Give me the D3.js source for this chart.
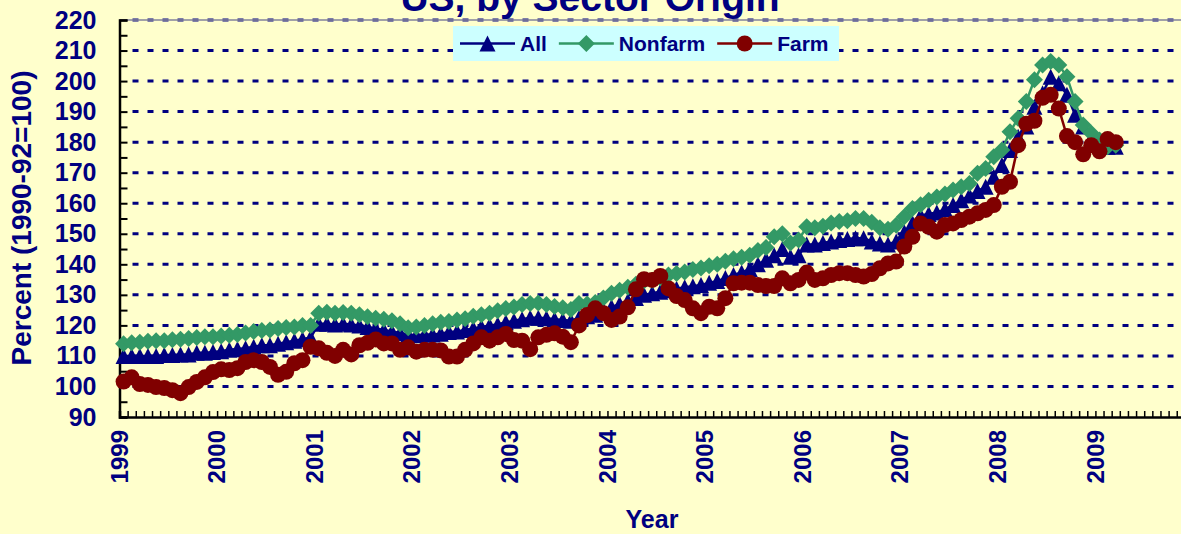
<!DOCTYPE html>
<html>
<head>
<meta charset="utf-8">
<script src="https://cdn.jsdelivr.net/npm/d3@7"></script>
<style>
  body { margin: 0; background: #ffffcc; }
  svg { display: block; font-family: "Liberation Sans", Arial, sans-serif; font-weight: bold; }
</style>
</head>
<body>
<svg width="1181" height="534"></svg>
<script>
// monthly index values, Jan 1999 .. Mar 2009 (1990-92=100)
var years = ["1999","2000","2001","2002","2003","2004","2005","2006","2007","2008","2009"];
var yTicks = [90,100,110,120,130,140,150,160,170,180,190,200,210,220];
var seriesNames = ["All","Nonfarm","Farm"];

var allPrices = [
  110,110,110,110,110,110.3,110.3,110.5,110.5,111,111,111.3,
  111.5,112,112.3,112.5,113,113.5,113.5,114,114.5,115,115.5,116,
  120.5,120.5,120.3,120.5,120.3,120,119.5,119,118.5,118,117.5,117,
  116.8,117,117,117.3,117.8,118,118.5,119,119.5,120,120.3,121,
  121.5,122,122.5,122.5,122.3,122,121.8,121.5,122.5,123,123.5,125,
  126,127,128,129,130,130.5,131,131.5,132,132.5,132.8,133.2,
  134,134.5,135.5,136.5,137.3,138.5,140,141.5,143,145,142.5,143,
  146.5,146.5,147,147.5,148,148.3,148.5,148.5,147.5,146.8,146.5,147.5,
  150.5,153.5,156,156.5,157,158,159.4,161,162.5,164,165.4,168.7,
  172.5,177.4,181.8,185.1,191.6,196,201.4,199.3,195.5,189,185.1,181.3,
  179.1,178.5,178.5
];

var nonfarmPrices = [
  114,114.3,114.5,114.8,115,115,115.3,115.5,115.7,116,116.3,116.3,
  116.5,116.8,117,117.5,118,118.3,118.5,119,119.3,119.5,120,120,
  124,124.3,124,124.2,124,123.5,122.8,122.3,122,121.5,120.5,119.2,
  119.5,120,120.5,121,121.3,121.8,122.2,123,123.5,124,124.8,125.5,
  126,126.8,127.2,127.3,126.8,126.2,125.8,125.2,127.2,127,127.5,129,
  130.5,131.5,132.5,133.5,134.5,134.8,135.5,136.5,137,137.5,138.3,138.8,
  139.5,140,141,141.8,142.3,143,144.5,145.5,149,150,147,148,
  152.3,152,152.5,153.5,154,154.3,155,155,153.8,152,151.5,152.8,
  155.6,158.3,159.5,161,162,163,164.3,165.4,166.5,169.8,171.4,175.2,
  177.4,183.4,187.8,193.3,200.4,205.3,206.4,205.3,201.4,193.3,185.6,182.9,
  180.7,178.5,179
];

var farmPrices = [
  101.6,103,100.8,100.5,99.8,99.5,98.8,97.8,99.8,101.5,103,104.7,
  105.6,105.4,106,108,108.6,108,106.4,103.8,104.8,107.6,108.6,113,
  112.5,111,110,112,110.5,113.5,114.3,115.4,114.1,114.1,112,112.8,
  111.4,112,112,111.8,109.8,109.8,112,114.1,116.1,115,116.1,117.2,
  115.2,115,112.2,116.1,116.9,117.4,116.3,114.5,120,123.4,125.6,124,
  121.8,122.9,125.9,131.8,135.1,134.9,136.2,132.1,129.6,128.3,125.6,124,
  126.1,125.6,128.9,133.8,134,134,133.2,132.9,132.9,135.4,133.8,134.9,
  137.3,134.9,135.4,136.5,137.1,137.1,136.5,136,136.8,138.7,140.3,140.9,
  145.8,149,153.4,152.3,150.7,152.9,153.4,154.5,155.6,156.7,157.8,159.4,
  165.4,167,179,186,187,194.5,195.5,191,182,180,176,179,
  177,181,180
];

var navy = "#000080";
var colors = ["#000080", "#339966", "#800000"];

var svg = d3.select("svg");
var plotLeft = 119.5, plotRight = 1193, plotTop = 20, plotBottom = 417;
var months = years.length * 12; // 132 category slots

var x = d3.scaleLinear().domain([0, months]).range([plotLeft, plotRight]);
var y = d3.scaleLinear().domain([90, 220]).range([plotBottom, plotTop]);

svg.append("rect").attr("width", 1181).attr("height", 534).attr("fill", "#ffffcc");

// title (only its lower part shows)
svg.append("text")
    .attr("x", 590).attr("y", 11)
    .attr("text-anchor", "middle")
    .attr("fill", navy)
    .style("font-size", "39px")
    .text("US, by Sector Origin");

// grid
svg.append("g").selectAll("line")
    .data(yTicks.filter(function(d) { return d > 90; }))
  .enter().append("line")
    .attr("x1", plotLeft + 13).attr("x2", plotRight)
    .attr("y1", function(d) { return y(d); })
    .attr("y2", function(d) { return y(d); })
    .attr("stroke", navy)
    .attr("stroke-width", 3)
    .attr("stroke-dasharray", "6,9");

svg.append("line")
    .attr("x1", plotLeft).attr("x2", plotRight).attr("y1", plotTop).attr("y2", plotTop)
    .attr("stroke", "#8a8aa0").attr("stroke-width", 2).attr("opacity", 0.8);

// y axis
var yAxis = svg.append("g")
    .attr("transform", "translate(" + plotLeft + ",0)")
    .call(d3.axisLeft(y)
      .tickValues(d3.range(90, 221, 5))
      .tickSize(-8)
      .tickPadding(23)
      .tickFormat(function(d) { return d % 10 === 0 ? d : ""; }));
yAxis.select(".domain").attr("stroke", "#000").attr("stroke-width", 2.5);
yAxis.selectAll(".tick line").attr("stroke", "#000").attr("stroke-width", 2);
yAxis.selectAll("text")
    .attr("fill", navy)
    .style("font-size", "25px")
    .style("font-family", "'Liberation Sans', Arial, sans-serif")
    .style("font-weight", "bold");

// x axis
var xAxis = svg.append("g")
    .attr("transform", "translate(0," + plotBottom + ")")
    .call(d3.axisBottom(x)
      .tickValues(d3.range(0, months + 1))
      .tickSize(-6)
      .tickFormat(function(d) { return d % 12 === 0 && d / 12 < years.length ? years[d / 12] : ""; }));
xAxis.select(".domain").attr("stroke", "#000").attr("stroke-width", 2.5);
xAxis.selectAll(".tick line").attr("stroke", "#000").attr("stroke-width", 1.5);
xAxis.selectAll("text")
    .attr("transform", "rotate(-90)")
    .attr("x", -13).attr("y", -1).attr("dy", "0.36em")
    .attr("text-anchor", "end")
    .attr("fill", navy)
    .style("font-size", "24px")
    .style("font-family", "'Liberation Sans', Arial, sans-serif")
    .style("font-weight", "bold");

// axis titles
svg.append("text")
    .attr("x", 652).attr("y", 528)
    .attr("text-anchor", "middle")
    .attr("fill", navy)
    .style("font-size", "25px")
    .text("Year");

svg.append("text")
    .attr("transform", "translate(31,218) rotate(-90)")
    .attr("text-anchor", "middle")
    .attr("fill", navy)
    .style("font-size", "28px")
    .text("Percent (1990-92=100)");

// markers
function triangle(s) {
  return "M0," + (-s / 2) + "L" + (s / 2) + "," + (s / 2) + "L" + (-s / 2) + "," + (s / 2) + "Z";
}
function diamond(s) {
  return "M0," + (-s / 2) + "L" + (s / 2) + ",0L0," + (s / 2) + "L" + (-s / 2) + ",0Z";
}
function drawMarker(g, k) {
  if (k === 2) return g.append("circle").attr("r", 8).attr("fill", colors[k]);
  return g.append("path").attr("d", k === 0 ? triangle(16) : diamond(17)).attr("fill", colors[k]);
}

var cx = function(d, i) { return x(i + 0.5); };
var line = d3.line().x(cx).y(function(d) { return y(d); });

[allPrices, nonfarmPrices, farmPrices].forEach(function(values, k) {
  var g = svg.append("g");
  g.append("path")
      .datum(values)
      .attr("d", line)
      .attr("fill", "none")
      .attr("stroke", colors[k])
      .attr("stroke-width", 2.5);
  g.selectAll("g.m")
      .data(values)
    .enter().append("g")
      .attr("class", "m")
      .attr("transform", function(d, i) { return "translate(" + cx(d, i) + "," + y(d) + ")"; })
      .each(function() { drawMarker(d3.select(this), k); });
});

// legend
var legend = svg.append("g");
legend.append("rect")
    .attr("x", 453).attr("y", 26).attr("width", 386).attr("height", 35)
    .attr("fill", "#ccffff");
var lx = 460, ly = 43.5;
seriesNames.forEach(function(name, k) {
  var item = legend.append("g").attr("transform", "translate(" + lx + "," + ly + ")");
  item.append("line").attr("x1", 0).attr("x2", 55)
      .attr("stroke", colors[k]).attr("stroke-width", 2.5);
  drawMarker(item.append("g").attr("transform", "translate(27.5,0)"), k);
  var t = item.append("text")
      .attr("x", 60).attr("dy", "0.36em")
      .attr("fill", navy)
      .style("font-size", "21px")
      .text(name);
  lx += 60 + t.node().getComputedTextLength() + 12;
});
</script>
</body>
</html>
